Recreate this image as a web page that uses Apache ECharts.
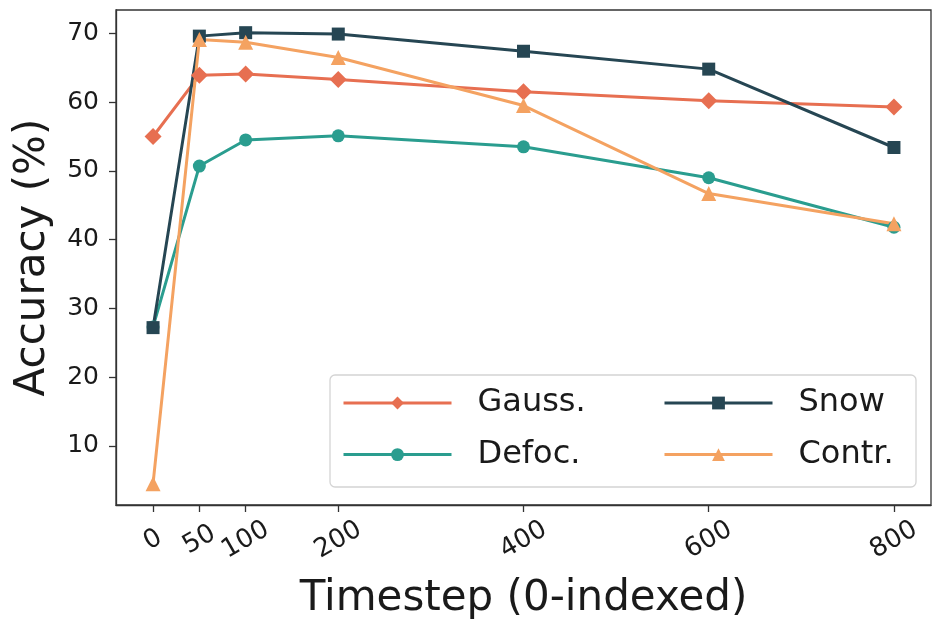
<!DOCTYPE html>
<html lang="en">
<head>
    <meta charset="UTF-8">
    <title>Accuracy vs timestep</title>
    <script src="https://cdn.jsdelivr.net/npm/echarts@6.0.0/dist/echarts.min.js"></script>
    <style>
        html, body { margin: 0; padding: 0; background: #fff; }
        #main { width: 932px; height: 619px; }
    </style>
</head>
<body>
<div id="main"></div>
<script>
    // data
    var timesteps = [0, 50, 100, 200, 400, 600, 800];
    var gauss = [55.0, 63.9, 64.1, 63.3, 61.5, 60.2, 59.3];
    var defoc = [27.3, 50.7, 54.5, 55.1, 53.5, 49.0, 41.8];
    var snow  = [27.2, 69.6, 70.1, 69.9, 67.4, 64.8, 53.4];
    var contr = [4.5, 69.1, 68.7, 66.5, 59.5, 46.7, 42.3];
    var yTicks = [10, 20, 30, 40, 50, 60, 70];

    var font = 'DejaVu Sans';

    function pairs(ys) {
        return timesteps.map(function (t, i) { return [t, ys[i]]; });
    }

    function line(name, ys, color, symbol, size) {
        return {
            name: name,
            type: 'line',
            data: pairs(ys),
            symbol: symbol,
            symbolSize: size,
            showSymbol: true,
            lineStyle: { color: color, width: 3 },
            itemStyle: { color: color },
            emphasis: { disabled: true },
            animation: false
        };
    }

    var chart = echarts.init(document.getElementById('main'));

    var legendText = {
        fontFamily: font,
        fontSize: 32,
        color: '#1a1a1a',
        lineHeight: 36,
        padding: [0, 0, 0, 21]
    };

    var option = {
        animation: false,
        grid: {
            left: 116, right: 1, top: 10, bottom: 114,
            show: true, borderColor: '#333', borderWidth: 1.3,
            containLabel: false,
            outerBoundsMode: 'none'
        },
        xAxis: {
            type: 'value',
            min: -40, max: 840,
            name: 'Timestep (0-indexed)',
            nameLocation: 'middle',
            nameGap: 73,
            nameTextStyle: { fontFamily: font, fontSize: 42, color: '#1a1a1a' },
            splitLine: { show: false },
            axisLine: { show: true, onZero: false, lineStyle: { color: '#333', width: 1.3 } },
            axisTick: { show: true, length: 7, lineStyle: { color: '#333', width: 1.3 }, customValues: timesteps },
            axisLabel: {
                customValues: timesteps,
                rotate: 30,
                align: 'center',
                verticalAlign: 'middle',
                margin: 35,
                fontFamily: font, fontSize: 26, color: '#1a1a1a'
            }
        },
        yAxis: {
            type: 'value',
            min: 1.4, max: 73.4,
            name: 'Accuracy (%)',
            nameLocation: 'middle',
            nameGap: 62,
            nameTextStyle: { fontFamily: font, fontSize: 42, color: '#1a1a1a' },
            splitLine: { show: false },
            axisLine: { show: true, onZero: false, lineStyle: { color: '#333', width: 1.3 } },
            axisTick: { show: true, length: 7, lineStyle: { color: '#333', width: 1.3 }, customValues: yTicks },
            axisLabel: {
                customValues: yTicks,
                margin: 17,
                fontFamily: font, fontSize: 25, color: '#1a1a1a'
            }
        },
        graphic: [{
            type: 'rect',
            z: 3,
            silent: true,
            shape: { x: 330, y: 375, width: 586, height: 112, r: 5 },
            style: { fill: 'rgba(255,255,255,0.85)', stroke: '#d4d4d4', lineWidth: 1.3 }
        }],
        legend: [{
            data: ['Gauss.', 'Defoc.'],
            orient: 'vertical',
            left: 342, top: 385,
            padding: 0,
            itemWidth: 108, itemHeight: 16, itemGap: 15.6,
            lineStyle: { width: 3 },
            textStyle: legendText,
            z: 5
        }, {
            data: ['Snow', 'Contr.'],
            orient: 'vertical',
            left: 663, top: 385,
            padding: 0,
            itemWidth: 108, itemHeight: 16, itemGap: 15.6,
            lineStyle: { width: 3 },
            textStyle: legendText,
            z: 5
        }],
        series: [
            line('Gauss.', gauss, '#E76F51', 'diamond', 17),
            line('Defoc.', defoc, '#2A9D8F', 'circle', 13),
            line('Snow', snow, '#264653', 'rect', 13),
            line('Contr.', contr, '#F4A261', 'triangle', 15)
        ]
    };

    chart.setOption(option);
</script>
</body>
</html>
